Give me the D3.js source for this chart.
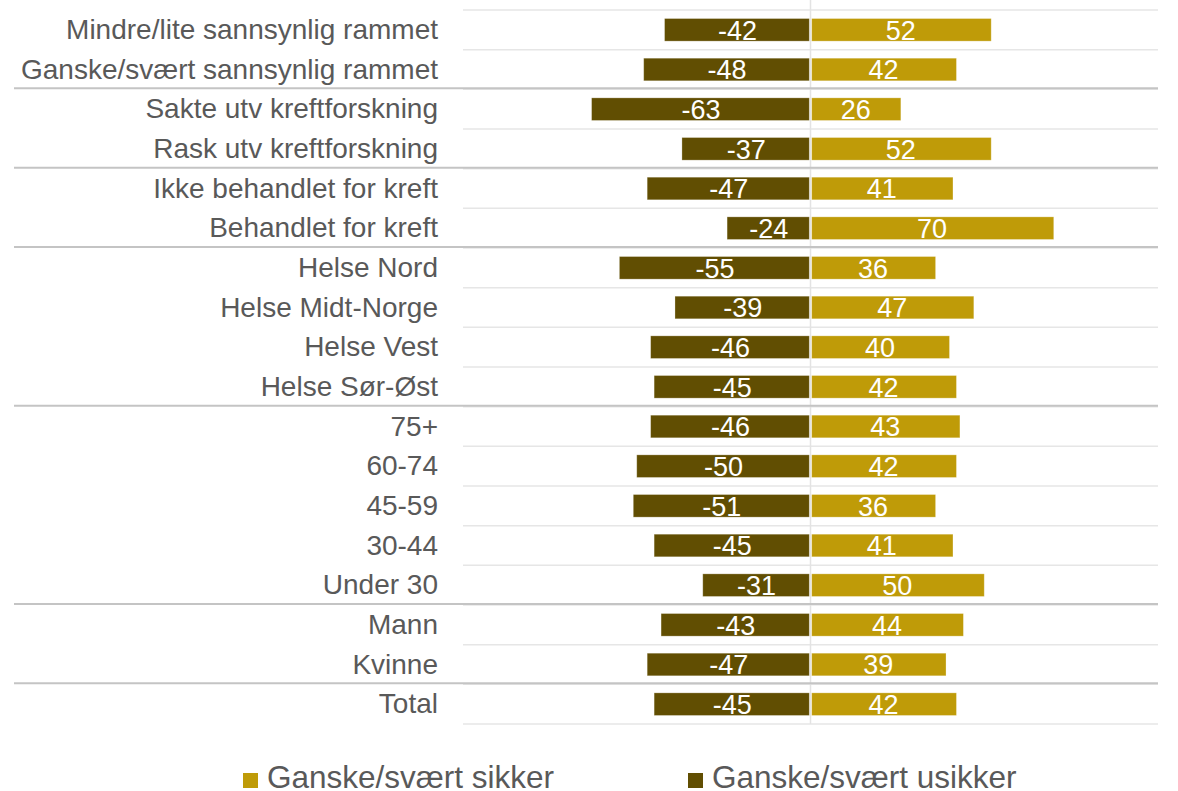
<!DOCTYPE html>
<html>
<head>
<meta charset="utf-8">
<script src="https://cdn.jsdelivr.net/npm/d3@7"></script>
<style>
  body { margin: 0; background: #fff; }
  svg text { font-family: "Liberation Sans", Arial, sans-serif; }
</style>
</head>
<body>
<svg id="chart" width="1178" height="791"></svg>
<script>
// categories, top to bottom
const categories = [
    "Mindre/lite sannsynlig rammet",
    "Ganske/svært sannsynlig rammet",
    "Sakte utv kreftforskning",
    "Rask utv kreftforskning",
    "Ikke behandlet for kreft",
    "Behandlet for kreft",
    "Helse Nord",
    "Helse Midt-Norge",
    "Helse Vest",
    "Helse Sør-Øst",
    "75+",
    "60-74",
    "45-59",
    "30-44",
    "Under 30",
    "Mann",
    "Kvinne",
    "Total"
];
const usikker = [-42, -48, -63, -37, -47, -24, -55, -39, -46, -45, -46, -50, -51, -45, -31, -43, -47, -45];
const sikker = [52, 42, 26, 52, 41, 70, 36, 47, 40, 42, 43, 42, 36, 41, 50, 44, 39, 42];
// a group separator is drawn below these categories
const groupEnds = ["Ganske/svært sannsynlig rammet", "Rask utv kreftforskning", "Behandlet for kreft",
    "Helse Sør-Øst", "Under 30", "Kvinne"];
const seriesNames = ["Ganske/svært sikker", "Ganske/svært usikker"];
const colors = { sikker: "#bf9b08", usikker: "#614e02" };

const svg = d3.select("#chart");

const x = d3.scaleLinear().domain([-100, 100]).range([463, 1158]);
const y = d3.scaleBand().domain(categories).range([10, 724]).paddingInner(0.43).paddingOuter(0.215);
const step = y.step();

// light row gridlines
const rowLines = d3.range(categories.length + 1).map(i => 10 + i * step);
svg.append("g").selectAll("line")
    .data(rowLines)
    .enter()
    .append("line")
    .attr("x1", x(-100)).attr("x2", x(100))
    .attr("y1", d => d).attr("y2", d => d)
    .attr("stroke", "#e6e6e6")
    .attr("stroke-width", 1.5);

// zero line
svg.append("line")
    .attr("x1", x(0)).attr("x2", x(0))
    .attr("y1", 0).attr("y2", 724)
    .attr("stroke", "#e3e3e3")
    .attr("stroke-width", 1.5);

// group separators
const sepY = d => y(d) + y.bandwidth() + (step - y.bandwidth()) / 2 - 1;
svg.append("g").selectAll("line")
    .data(groupEnds)
    .enter()
    .append("line")
    .attr("x1", 14).attr("x2", x(100))
    .attr("y1", sepY)
    .attr("y2", sepY)
    .attr("stroke", "#c4c4c4")
    .attr("stroke-width", 2);

const rows = categories.map((c, i) => ({ name: c, neg: usikker[i], pos: sikker[i] }));

const bars = svg.append("g");
bars.selectAll(".neg")
    .data(rows)
    .enter()
    .append("rect")
    .attr("class", "neg")
    .attr("x", d => x(d.neg))
    .attr("y", d => y(d.name))
    .attr("width", d => x(0) - 1.2 - x(d.neg))
    .attr("height", y.bandwidth())
    .attr("fill", colors.usikker)
    .attr("stroke", "rgba(255,255,255,0.35)")
    .attr("stroke-width", 0.8);
bars.selectAll(".pos")
    .data(rows)
    .enter()
    .append("rect")
    .attr("class", "pos")
    .attr("x", x(0) + 1.2)
    .attr("y", d => y(d.name))
    .attr("width", d => x(d.pos) - x(0) - 1.2)
    .attr("height", y.bandwidth())
    .attr("fill", colors.sikker)
    .attr("stroke", "rgba(255,255,255,0.35)")
    .attr("stroke-width", 0.8);

// value labels
const labels = svg.append("g")
    .attr("fill", "#fff")
    .attr("font-size", 27)
    .attr("text-anchor", "middle");
labels.selectAll(".nl")
    .data(rows)
    .enter()
    .append("text")
    .attr("x", d => (x(d.neg) + x(0)) / 2)
    .attr("y", d => y(d.name) + y.bandwidth() / 2)
    .attr("dy", "0.36em")
    .text(d => d.neg);
labels.selectAll(".pl")
    .data(rows)
    .enter()
    .append("text")
    .attr("x", d => (x(d.pos) + x(0)) / 2)
    .attr("y", d => y(d.name) + y.bandwidth() / 2)
    .attr("dy", "0.36em")
    .text(d => d.pos);

// category labels
svg.append("g")
    .attr("fill", "#595959")
    .attr("font-size", 28)
    .attr("text-anchor", "end")
    .selectAll("text")
    .data(categories)
    .enter()
    .append("text")
    .attr("x", 438)
    .attr("y", d => y(d) + y.bandwidth() / 2)
    .attr("dy", "0.33em")
    .text(d => d);

// legend
const legend = svg.append("g");
const legendItems = [
    { name: seriesNames[0], color: colors.sikker, x: 243 },
    { name: seriesNames[1], color: colors.usikker, x: 688 }
];
const li = legend.selectAll("g")
    .data(legendItems)
    .enter()
    .append("g")
    .attr("transform", d => `translate(${d.x},773)`);
li.append("rect")
    .attr("width", 15).attr("height", 15)
    .attr("fill", d => d.color);
li.append("text")
    .attr("x", 24)
    .attr("y", 15)
    .attr("font-size", 31.5)
    .attr("fill", "#595959")
    .text(d => d.name);
</script>
</body>
</html>
